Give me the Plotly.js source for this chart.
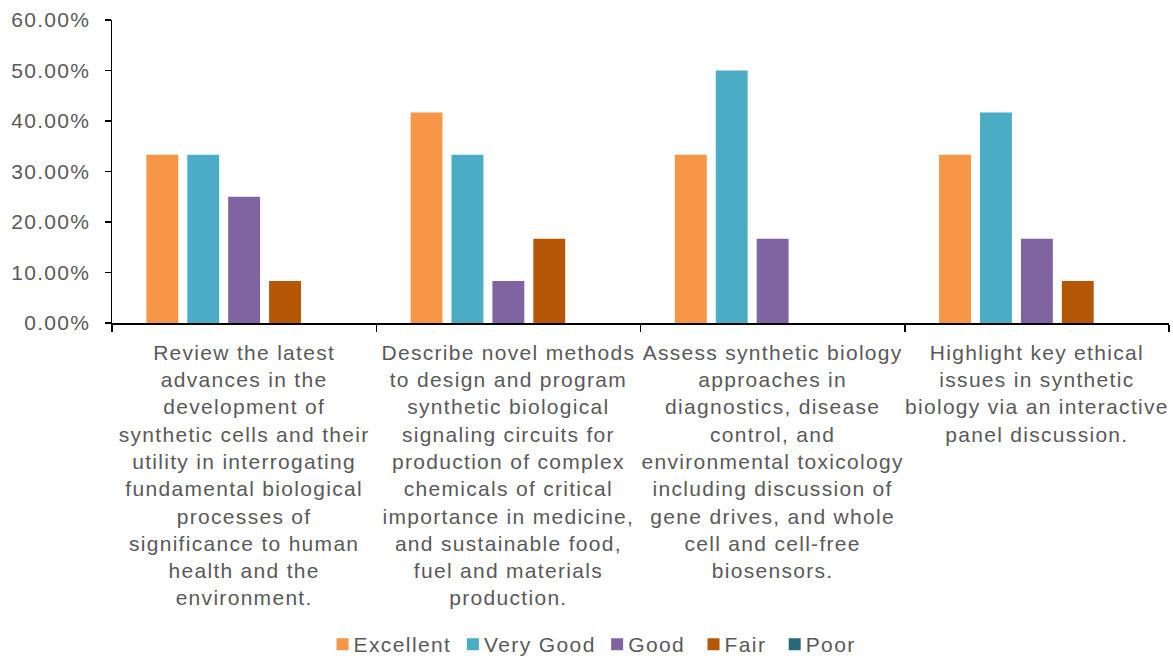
<!DOCTYPE html>
<html>
<head>
<meta charset="utf-8">
<script src="https://cdn.plot.ly/plotly-3.0.1.min.js"></script>
<style>
html,body{margin:0;padding:0;background:#fff;}
#chart{width:1173px;height:659px;}
#chart .xtick text, #chart .ytick text { letter-spacing: 1.3px; }
#chart .legendtext { letter-spacing: 1.4px; transform: translateX(-9px); }
</style>
</head>
<body>
<div id="chart"></div>
<script>
const categories = [
  "Review the latest<br>advances in the<br>development of<br>synthetic cells and their<br>utility in interrogating<br>fundamental biological<br>processes of<br>significance to human<br>health and the<br>environment.",
  "Describe novel methods<br>to design and program<br>synthetic biological<br>signaling circuits for<br>production of complex<br>chemicals of critical<br>importance in medicine,<br>and sustainable food,<br>fuel and materials<br>production.",
  "Assess synthetic biology<br>approaches in<br>diagnostics, disease<br>control, and<br>environmental toxicology<br>including discussion of<br>gene drives, and whole<br>cell and cell-free<br>biosensors.",
  "Highlight key ethical<br>issues in synthetic<br>biology via an interactive<br>panel discussion."
];
const seriesNames = ["Excellent", "Very Good", "Good", "Fair", "Poor"];
const excellent = [0.3333, 0.4167, 0.3333, 0.3333];
const veryGood  = [0.3333, 0.3333, 0.5000, 0.4167];
const good      = [0.2500, 0.0833, 0.1667, 0.1667];
const fair      = [0.0833, 0.1667, 0.0000, 0.0833];
const poor      = [0.0000, 0.0000, 0.0000, 0.0000];
const yTicks = [0, 0.1, 0.2, 0.3, 0.4, 0.5, 0.6];

const colors = ["#F79646", "#4BACC6", "#8064A2", "#B65708", "#276A7C"];
const values = [excellent, veryGood, good, fair, poor];

const FONT = "Arial, Liberation Sans, sans-serif";
const traces = seriesNames.map((n, i) => ({
  type: 'bar', name: n, x: categories, y: values[i],
  marker: {color: colors[i]}, hoverinfo: 'skip'
}));

const layout = {
  width: 1173, height: 659,
  margin: {l: 112, r: 4, t: 20, b: 336},
  paper_bgcolor: '#fff', plot_bgcolor: '#fff',
  font: {family: FONT, size: 21, color: '#595959'},
  barmode: 'group', bargap: 0.226, bargroupgap: 0.22,
  showlegend: true,
  legend: {orientation: 'h', xref: 'container', yref: 'container', x: 0.506, xanchor: 'center', y: 0.022, yanchor: 'middle',
           font: {family: FONT, size: 21, color: '#595959'}, itemwidth: 30, traceorder: 'normal'},
  xaxis: {
    type: 'category', tickson: 'boundaries', ticks: 'outside', ticklen: 7, tickwidth: 1.5, tickcolor: '#000',
    showline: true, linecolor: '#000', linewidth: 1.5, showgrid: false, zeroline: false,
    tickangle: 0, automargin: false, ticklabelstandoff: 10,
    tickfont: {family: FONT, size: 21, color: '#595959'}
  },
  yaxis: {
    range: [0, 0.6], tickvals: yTicks, tickformat: '.2%', ticks: 'outside', ticklen: 6, tickwidth: 1.5, tickcolor: '#000',
    showline: true, linecolor: '#000', linewidth: 1.5, showgrid: false, zeroline: false, automargin: false,
    ticklabelstandoff: 10,
    tickfont: {family: FONT, size: 21, color: '#595959'}
  }
};
Plotly.newPlot('chart', traces, layout, {displayModeBar: false, staticPlot: true});
</script>
</body>
</html>
